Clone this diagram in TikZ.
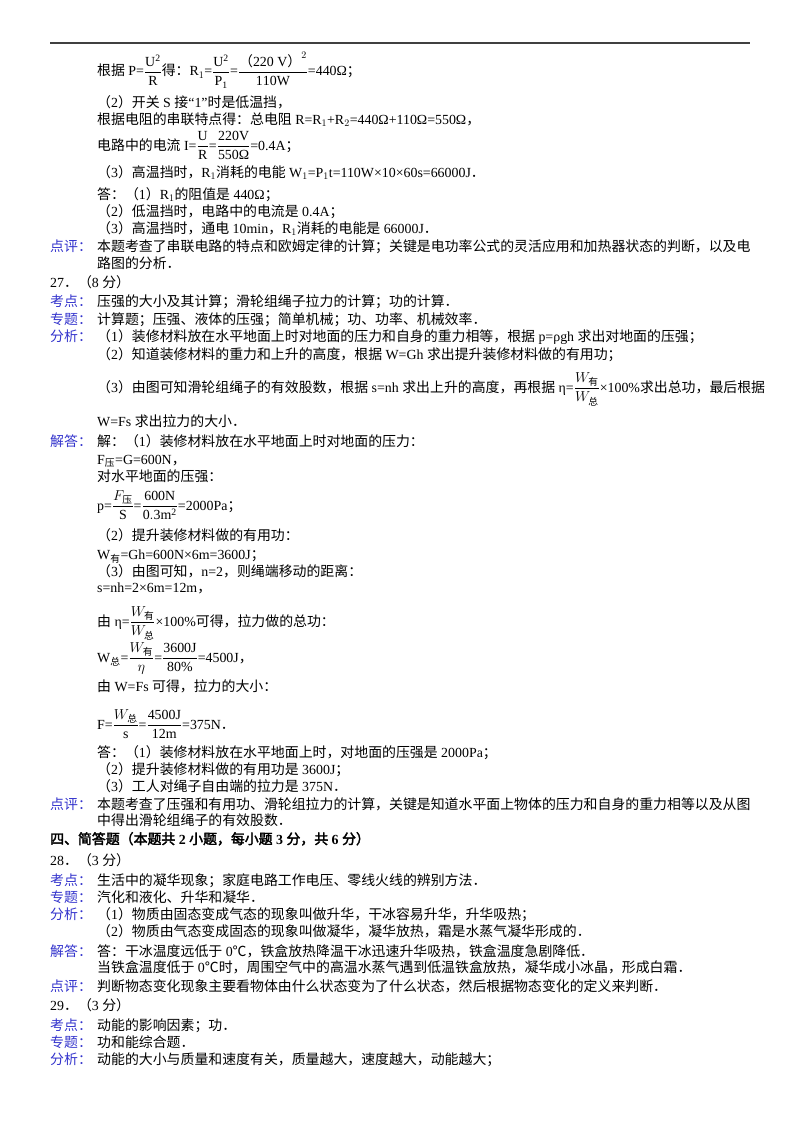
\documentclass[tikz,border=0pt]{standalone}
\usepackage{amsmath}
\usepackage{fontspec}
\setmainfont{Liberation Serif}
\newfontfamily\cjk{Noto Sans CJK SC}[BoldFont={Noto Sans CJK SC},BoldFeatures={FakeBold=2.5}]
\newXeTeXintercharclass\cjkc
\def\setcls#1#2{\count255=#1\relax\loop\XeTeXcharclass\count255=\cjkc\ifnum\count255<#2\advance\count255 1\repeat}
\setcls{"4E00}{"9FFF}
\setcls{"3000}{"303F}
\setcls{"FF00}{"FFEF}
\setcls{"2103}{"2103}
\def\cjkf{\cjk}\def\latf{\rmfamily}
\XeTeXinterchartokenstate=1
\XeTeXinterchartoks 0 \cjkc={\cjkf}
\XeTeXinterchartoks 4095 \cjkc={\cjkf}
\XeTeXinterchartoks \cjkc 0={\latf}
\XeTeXinterchartoks \cjkc 4095={\latf}
\newcommand\fr[2]{\dfrac{\mathrm{#1}}{\mathrm{#2}}}
\definecolor{labblue}{HTML}{3333CC}
\begin{document}
\begin{tikzpicture}[x=1pt,y=-1pt,
  t/.style={anchor=base west,inner sep=0pt,font=\fontsize{13.9}{15}\selectfont},
  lab/.style={t,text=labblue}]
\useasboundingbox (0,0) rectangle (800,1132);
\draw[line width=1.2pt,black!75] (50,43) -- (750,43);
\node[t] (l1) at (97,76) {根据 P=$\fr{U^2}{R}$得：R$_1$=$\fr{U^2}{P_1}$=$\dfrac{\text{（220 V）}^2}{\mathrm{110W}}$=440Ω；};
\node[t] (l2) at (97,107) {（2）开关 S 接“1”时是低温挡，};
\node[t] (l3) at (97,124) {根据电阻的串联特点得：总电阻 R=R$_1$+R$_2$=440Ω+110Ω=550Ω，};
\node[t] (l4) at (97,150) {电路中的电流 I=$\fr{U}{R}$=$\dfrac{\text{220V}}{\text{550Ω}}$=0.4A；};
\node[t] (l5) at (97,177) {（3）高温挡时，R$_1$消耗的电能 W$_1$=P$_1$t=110W×10×60s=66000J．};
\node[t] (l6) at (97,199) {答：（1）R$_1$的阻值是 440Ω；};
\node[t] (l7) at (97,216) {（2）低温挡时，电路中的电流是 0.4A；};
\node[t] (l8) at (97,233) {（3）高温挡时，通电 10min，R$_1$消耗的电能是 66000J．};
\node[lab] (k1) at (50,251) {点评：};
\node[t] (l9) at (97,251) {本题考查了串联电路的特点和欧姆定律的计算；关键是电功率公式的灵活应用和加热器状态的判断，以及电};
\node[t] (l10) at (97,268) {路图的分析．};
\node[t] (l11) at (50,287) {27．（8 分）};
\node[lab] (k2) at (50,306) {考点：};
\node[t] (l12) at (97,306) {压强的大小及其计算；滑轮组绳子拉力的计算；功的计算．};
\node[lab] (k3) at (50,324) {专题：};
\node[t] (l13) at (97,324) {计算题；压强、液体的压强；简单机械；功、功率、机械效率．};
\node[lab] (k4) at (50,341) {分析：};
\node[t] (l14) at (97,341) {（1）装修材料放在水平地面上时对地面的压力和自身的重力相等，根据 p=ρgh 求出对地面的压强；};
\node[t] (l15) at (97,359) {（2）知道装修材料的重力和上升的高度，根据 W=Gh 求出提升装修材料做的有用功；};
\node[t] (l16) at (97,392) {（3）由图可知滑轮组绳子的有效股数，根据 s=nh 求出上升的高度，再根据 η=$\dfrac{W_{\text{有}}}{W_{\text{总}}}$×100\%求出总功，最后根据};
\node[t] (l17) at (97,426) {W=Fs 求出拉力的大小．};
\node[lab] (k5) at (50,446) {解答：};
\node[t] (l18) at (97,446) {解：（1）装修材料放在水平地面上时对地面的压力：};
\node[t] (l19) at (97,464) {F$_{\text{压}}$=G=600N，};
\node[t] (l20) at (97,481) {对水平地面的压强：};
\node[t] (l21) at (97,510) {p=$\dfrac{F_{\text{压}}}{\mathrm S}$=$\fr{600N}{0.3m^2}$=2000Pa；};
\node[t] (l22) at (97,540) {（2）提升装修材料做的有用功：};
\node[t] (l23) at (97,559) {W$_{\text{有}}$=Gh=600N×6m=3600J；};
\node[t] (l24) at (97,576) {（3）由图可知，n=2，则绳端移动的距离：};
\node[t] (l25) at (97,592) {s=nh=2×6m=12m，};
\node[t] (l26) at (97,626) {由 η=$\dfrac{W_{\text{有}}}{W_{\text{总}}}$×100\%可得，拉力做的总功：};
\node[t] (l27) at (97,662) {W$_{\text{总}}$=$\dfrac{W_{\text{有}}}{\eta}$=$\fr{3600J}{80\%}$=4500J，};
\node[t] (l28) at (97,691) {由 W=Fs 可得，拉力的大小：};
\node[t] (l29) at (97,729) {F=$\dfrac{W_{\text{总}}}{\mathrm s}$=$\fr{4500J}{12m}$=375N．};
\node[t] (l30) at (97,757) {答：（1）装修材料放在水平地面上时，对地面的压强是 2000Pa；};
\node[t] (l31) at (97,774) {（2）提升装修材料做的有用功是 3600J；};
\node[t] (l32) at (97,791) {（3）工人对绳子自由端的拉力是 375N．};
\node[lab] (k6) at (50,809) {点评：};
\node[t] (l33) at (97,809) {本题考查了压强和有用功、滑轮组拉力的计算，关键是知道水平面上物体的压力和自身的重力相等以及从图};
\node[t] (l34) at (97,825) {中得出滑轮组绳子的有效股数．};
\node[t,font=\fontsize{13.9}{15}\selectfont\bfseries] (l35) at (50,844) {四、简答题（本题共 2 小题，每小题 3 分，共 6 分）};
\node[t] (l36) at (50,865) {28．（3 分）};
\node[lab] (k7) at (50,885) {考点：};
\node[t] (l37) at (97,885) {生活中的凝华现象；家庭电路工作电压、零线火线的辨别方法．};
\node[lab] (k8) at (50,902) {专题：};
\node[t] (l38) at (97,902) {汽化和液化、升华和凝华．};
\node[lab] (k9) at (50,919) {分析：};
\node[t] (l39) at (97,919) {（1）物质由固态变成气态的现象叫做升华，干冰容易升华，升华吸热；};
\node[t] (l40) at (97,936) {（2）物质由气态变成固态的现象叫做凝华，凝华放热，霜是水蒸气凝华形成的．};
\node[lab] (k10) at (50,956) {解答：};
\node[t] (l41) at (97,956) {答：干冰温度远低于 0℃，铁盒放热降温干冰迅速升华吸热，铁盒温度急剧降低．};
\node[t] (l42) at (97,972) {当铁盒温度低于 0℃时，周围空气中的高温水蒸气遇到低温铁盒放热，凝华成小冰晶，形成白霜．};
\node[lab] (k11) at (50,991) {点评：};
\node[t] (l43) at (97,991) {判断物态变化现象主要看物体由什么状态变为了什么状态，然后根据物态变化的定义来判断．};
\node[t] (l44) at (50,1010) {29．（3 分）};
\node[lab] (k12) at (50,1030) {考点：};
\node[t] (l45) at (97,1030) {动能的影响因素；功．};
\node[lab] (k13) at (50,1047) {专题：};
\node[t] (l46) at (97,1047) {功和能综合题．};
\node[lab] (k14) at (50,1064) {分析：};
\node[t] (l47) at (97,1064) {动能的大小与质量和速度有关，质量越大，速度越大，动能越大；};
\end{tikzpicture}
\end{document}
